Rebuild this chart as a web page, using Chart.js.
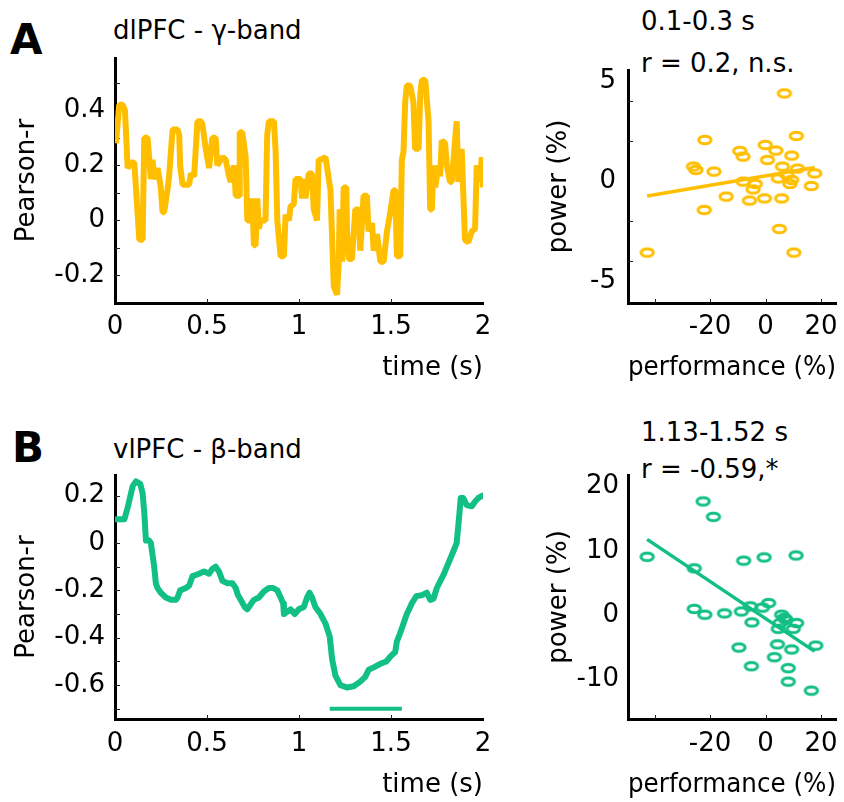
<!DOCTYPE html>
<html>
<head>
<meta charset="utf-8">
<script src="https://cdn.jsdelivr.net/npm/chart.js@4.4.1/dist/chart.umd.min.js"></script>
<style>
  html, body { margin: 0; padding: 0; background: #fff; overflow: hidden; }
  #fig { position: relative; width: 844px; height: 802px; font-family: 'DejaVu Sans', sans-serif; color: #000; }
  #fig canvas { position: absolute; }
  .txt { position: absolute; font-size: 26px; line-height: 1; white-space: nowrap; }
  .lbl { position: absolute; font-size: 42px; font-weight: bold; line-height: 1; }
</style>
</head>
<body>
<div id="fig">
  <div class="lbl" style="left:10px; top:19px;">A</div>
  <div class="lbl" style="left:12px; top:427px;">B</div>
  <div class="txt" style="left:113px; top:17px;">dlPFC - γ-band</div>
  <div class="txt" style="left:113px; top:436px;">vlPFC - β-band</div>
  <div class="txt" style="left:641px; top:8px;">0.1-0.3 s</div>
  <div class="txt" style="left:641px; top:50px;">r = 0.2, n.s.</div>
  <div class="txt" style="left:641px; top:419px;">1.13-1.52 s</div>
  <div class="txt" style="left:641px; top:456px;">r = -0.59,*</div>

  <canvas id="lineA" width="510" height="350" style="left:0; top:45px;"></canvas>
  <canvas id="scatA" width="324" height="350" style="left:520px; top:45px;"></canvas>
  <canvas id="lineB" width="510" height="340" style="left:0; top:462px;"></canvas>
  <canvas id="scatB" width="324" height="340" style="left:520px; top:462px;"></canvas>
</div>
<script>
// ---- data ----
const A_TIME = [0.005,0.023,0.042,0.054,0.069,0.087,0.105,0.132,0.150,0.159,
  0.177,0.195,0.204,0.213,0.231,0.249,0.258,0.267,0.285,0.294,
  0.313,0.340,0.349,0.354,0.367,0.403,0.412,0.430,0.448,0.466,
  0.475,0.493,0.511,0.529,0.547,0.556,0.584,0.602,0.620,0.629,
  0.647,0.656,0.674,0.678,0.692,0.710,0.719,0.737,0.746,0.755,
  0.764,0.773,0.782,0.791,0.818,0.827,0.836,0.864,0.873,0.882,
  0.900,0.918,0.927,0.945,0.954,0.972,0.981,1.008,1.017,1.026,
  1.035,1.053,1.071,1.080,1.098,1.107,1.117,1.144,1.171,1.189,
  1.207,1.216,1.221,1.234,1.243,1.257,1.261,1.270,1.288,1.306,
  1.324,1.333,1.351,1.369,1.378,1.397,1.406,1.424,1.442,1.460,
  1.478,1.496,1.514,1.523,1.532,1.550,1.559,1.568,1.577,1.586,
  1.604,1.622,1.631,1.650,1.659,1.668,1.686,1.704,1.713,1.722,
  1.731,1.740,1.758,1.767,1.776,1.794,1.803,1.821,1.830,1.848,
  1.857,1.866,1.884,1.902,1.920,1.939,1.957,1.966,1.984,1.993,2.0];
const A_R = [0.28,0.42,0.42,0.40,0.19,0.21,0.21,-0.07,-0.07,0.30,
  0.30,0.15,0.22,0.15,0.19,0.12,0.03,0.03,0.11,0.16,
  0.33,0.33,0.31,0.20,0.13,0.13,0.17,0.16,0.36,0.36,
  0.35,0.26,0.19,0.30,0.30,0.20,0.23,0.22,0.16,0.14,
  0.20,0.09,0.09,0.32,0.32,0.23,0.00,0.00,0.08,-0.09,
  -0.09,0.08,-0.03,0.00,0.00,0.31,0.36,0.36,0.25,0.00,
  -0.13,-0.13,0.02,0.00,0.05,0.06,0.15,0.15,0.08,0.15,
  0.08,0.17,0.17,0.04,0.00,0.22,0.22,0.23,0.11,-0.24,
  -0.27,-0.15,0.04,-0.15,0.12,0.12,-0.04,-0.14,-0.14,0.04,
  0.04,-0.11,0.09,0.09,-0.04,-0.01,-0.11,-0.05,-0.15,-0.15,
  -0.04,0.03,0.11,0.11,-0.13,-0.13,0.22,0.25,0.43,0.49,
  0.49,0.43,0.26,0.26,0.46,0.51,0.51,0.36,0.04,0.04,
  0.20,0.12,0.20,0.16,0.29,0.28,0.20,0.14,0.14,0.29,
  0.36,0.14,0.26,-0.07,-0.08,-0.04,-0.03,0.20,0.14,0.23,0.12];

const B_TIME = [0.005,0.051,0.069,0.096,0.114,0.137,0.150,0.159,0.168,0.186,
  0.195,0.213,0.222,0.231,0.249,0.276,0.304,0.331,0.340,0.354,
  0.385,0.403,0.421,0.439,0.457,0.484,0.511,0.529,0.547,0.565,
  0.584,0.611,0.638,0.656,0.668,0.683,0.705,0.719,0.737,0.755,
  0.782,0.809,0.836,0.860,0.882,0.900,0.914,0.918,0.936,0.954,
  0.977,0.999,1.026,1.044,1.057,1.071,1.089,1.117,1.144,1.167,
  1.180,1.198,1.225,1.261,1.297,1.333,1.360,1.379,1.406,1.442,
  1.474,1.496,1.523,1.532,1.550,1.568,1.586,1.613,1.637,1.668,
  1.695,1.713,1.731,1.749,1.785,1.812,1.839,1.857,1.872,1.879,
  1.893,1.911,1.939,1.957,1.975,1.998];
const B_R = [0.10,0.10,0.15,0.24,0.26,0.25,0.21,0.13,0.01,0.01,
  0.00,-0.10,-0.17,-0.19,-0.21,-0.23,-0.24,-0.24,-0.23,-0.20,
  -0.19,-0.18,-0.14,-0.135,-0.13,-0.12,-0.13,-0.11,-0.10,-0.12,
  -0.16,-0.17,-0.17,-0.19,-0.22,-0.24,-0.27,-0.28,-0.26,-0.24,
  -0.23,-0.205,-0.19,-0.19,-0.20,-0.23,-0.255,-0.30,-0.29,-0.28,
  -0.30,-0.28,-0.27,-0.23,-0.21,-0.23,-0.27,-0.30,-0.34,-0.395,
  -0.49,-0.56,-0.60,-0.61,-0.605,-0.585,-0.565,-0.535,-0.525,-0.51,
  -0.50,-0.48,-0.46,-0.415,-0.38,-0.34,-0.30,-0.255,-0.225,-0.22,
  -0.21,-0.24,-0.235,-0.19,-0.135,-0.085,-0.035,0.00,0.125,0.19,
  0.19,0.16,0.155,0.175,0.19,0.20];
const SIG_T = [1.167, 1.559];
const SIG_R = -0.70;

const TIME_TICKS = [0, 0.5, 1, 1.5, 2];
const A_R_TICKS = [-0.2, 0, 0.2, 0.4];
const B_R_TICKS = [-0.6, -0.4, -0.2, 0, 0.2];

const A_PERF = [6.8,-21.9,11.1,-0.1,-9.3,-8.1,3.7,9.4,0.7,-26.0,-25.1,-18.6,6.1,11.5,17.7,4.6,
  9.4,-8.1,-3.7,-4.5,8.8,16.5,-14.2,-5.8,-0.4,5.8,-22.1,5.0,-42.7,10.2,7.6];
const A_POW = [4.38,2.05,2.25,1.8,1.5,1.22,1.52,1.27,1.05,0.72,0.55,0.47,0.72,0.62,0.38,0.13,
  0.05,-0.03,-0.15,-0.42,-0.15,-0.25,-0.78,-0.98,-0.87,-0.87,-1.45,-2.4,-3.58,-3.58,0.3];
const A_FIT_X = [-42.7, 17.7];
const A_FIT_Y = [-0.75, 0.68];

const B_PERF = [-22.5,-18.8,-42.7,-7.9,-0.5,11.0,-25.7,-25.7,-21.9,-14.8,-8.7,-5.5,-1.1,1.1,-4.9,5.8,
  6.8,5.2,11.2,4.6,10.0,-9.6,4.3,9.4,18.1,3.2,-5.1,8.2,8.2,16.5,7.4];
const B_POW = [17.7,15.3,9.1,8.5,9.0,9.3,7.3,1.0,0.1,0.3,0.6,1.4,1.2,1.9,-1.1,0.1,
  -0.4,-1.2,-1.2,-2.1,-2.1,-5.0,-4.5,-5.3,-4.7,-6.5,-7.9,-8.2,-10.3,-11.7,-0.7];
const B_FIT_X = [-42.7, 17.7];
const B_FIT_Y = [11.8, -5.6];

const PERF_TICKS = [-20, 0, 20];
const A_POW_TICKS = [-5, 0, 5];
const B_POW_TICKS = [-10, 0, 10, 20];

// small inward tick marks
const TIME_MINOR = [0.5, 1, 1.5];
const A_R_MINOR = [-0.2, -0.1, 0, 0.1, 0.2, 0.3, 0.4, 0.5];
const B_R_MINOR = [-0.7, -0.6, -0.5, -0.4, -0.3, -0.2, -0.1, 0, 0.1, 0.2];
const PERF_MINOR = [-40, -20, 0, 20];
const A_POW_MINOR = [-4, -2, 2, 4];

const YELLOW = '#FFBF00';
const GREEN = '#12BF84';

Chart.defaults.font.family = "'DejaVu Sans', sans-serif";
Chart.defaults.font.size = 26;
Chart.defaults.color = '#000';
Chart.defaults.animation = false;

const innerTicks = {
    id: 'innerTicks',
    beforeDatasetsDraw(chart, args, opts) {
        const { ctx, chartArea: a, scales: { x, y } } = chart;
        ctx.save();
        ctx.strokeStyle = '#222';
        ctx.lineWidth = 1;
        ctx.beginPath();
        (opts.x || []).forEach(v => {
            const px = Math.round(x.getPixelForValue(v)) + 0.5;
            ctx.moveTo(px, a.bottom); ctx.lineTo(px, a.bottom - 4);
        });
        (opts.y || []).forEach(v => {
            const py = Math.round(y.getPixelForValue(v)) + 0.5;
            ctx.moveTo(a.left, py); ctx.lineTo(a.left + 5, py);
        });
        ctx.stroke();
        ctx.restore();
    }
};

// open ellipse marker, as in the original figure
function ellipse(color) {
    const c = document.createElement('canvas');
    c.width = 20; c.height = 14;
    const g = c.getContext('2d');
    g.strokeStyle = color;
    g.lineWidth = 3;
    g.beginPath();
    g.ellipse(10, 7, 6.2, 3.8, 0, 0, Math.PI * 2);
    g.stroke();
    return c;
}

const fmt = v => (v === 0 ? '0' : (Number.isInteger(v) ? String(v) : v.toFixed(1)));

function xScale(min, max, ticks, height, title, tickPad, titlePad) {
    return {
        type: 'linear', min, max,
        afterBuildTicks: s => { s.ticks = ticks.map(v => ({ value: v })); },
        afterFit: s => { s.height = height; s.paddingLeft = 0; s.paddingRight = 0; },
        grid: { display: false, drawTicks: false },
        border: { display: true, color: '#000', width: 3 },
        ticks: { padding: tickPad, autoSkip: false, maxRotation: 0, callback: fmt },
        title: { display: true, text: title, align: 'end', padding: { top: 0, bottom: titlePad } }
    };
}

function yScale(min, max, ticks, width, title, tickPad, titlePad) {
    return {
        type: 'linear', min, max,
        afterBuildTicks: s => { s.ticks = ticks.map(v => ({ value: v })); },
        afterFit: s => { s.width = width; s.paddingTop = 0; s.paddingBottom = 0; },
        grid: { display: false, drawTicks: false },
        border: { display: true, color: '#000', width: 3 },
        ticks: { padding: tickPad, autoSkip: false, callback: fmt },
        title: { display: true, text: title, padding: { top: titlePad, bottom: 0 } }
    };
}

const basePlugins = { legend: { display: false }, tooltip: { enabled: false } };

// A: time course, dlPFC gamma
new Chart(document.getElementById('lineA'), {
    type: 'line',
    data: {
        datasets: [{
            data: A_TIME.map((t, i) => ({ x: t, y: A_R[i] })),
            borderColor: YELLOW, borderWidth: 6, pointRadius: 0,
            borderJoinStyle: 'bevel', tension: 0
        }]
    },
    options: {
        responsive: false, devicePixelRatio: 1,
        layout: { padding: { left: 0, top: 13, right: 27, bottom: 0 } },
        scales: {
            x: xScale(0, 2, TIME_TICKS, 92, 'time (s)', 9, 11),
            y: yScale(-0.3, 0.59, A_R_TICKS, 115, 'Pearson-r', 10, 12)
        },
        plugins: { ...basePlugins, innerTicks: { x: TIME_MINOR, y: A_R_MINOR } }
    },
    plugins: [innerTicks]
});

// B: time course, vlPFC beta
new Chart(document.getElementById('lineB'), {
    type: 'line',
    data: {
        datasets: [{
            data: B_TIME.map((t, i) => ({ x: t, y: B_R[i] })),
            borderColor: GREEN, borderWidth: 6, pointRadius: 0,
            borderJoinStyle: 'round', borderCapStyle: 'round', tension: 0
        }, {
            data: SIG_T.map(t => ({ x: t, y: SIG_R })),
            borderColor: GREEN, borderWidth: 4, pointRadius: 0
        }]
    },
    options: {
        responsive: false, devicePixelRatio: 1,
        layout: { padding: { left: 0, top: 13, right: 27, bottom: 0 } },
        scales: {
            x: xScale(0, 2, TIME_TICKS, 83, 'time (s)', 10, 1),
            y: yScale(-0.743, 0.287, B_R_TICKS, 115, 'Pearson-r', 10, 12)
        },
        plugins: { ...basePlugins, innerTicks: { x: TIME_MINOR, y: B_R_MINOR } }
    },
    plugins: [innerTicks]
});

function scatterChart(id, perf, pow, fitX, fitY, color, yMin, yMax, yTicks, yMinor, padTop, xHeight, tickPadX, titlePad, tickPadY) {
    const marker = ellipse(color);
    return new Chart(document.getElementById(id), {
        type: 'scatter',
        data: {
            datasets: [{
                data: perf.map((p, i) => ({ x: p, y: pow[i] })),
                pointStyle: marker, pointRadius: 7
            }, {
                data: fitX.map((p, i) => ({ x: p, y: fitY[i] })),
                showLine: true, borderColor: color, borderWidth: 3.5, pointRadius: 0
            }]
        },
        options: {
            responsive: false, devicePixelRatio: 1,
            layout: { padding: { left: 0, top: padTop, right: 6, bottom: 0 } },
            scales: {
                x: xScale(-49.6, 25.4, PERF_TICKS, xHeight, 'performance (%)', tickPadX, titlePad),
                y: yScale(yMin, yMax, yTicks, 108, 'power (%)', tickPadY, 24)
            },
            plugins: { ...basePlugins, innerTicks: { x: PERF_MINOR, y: yMinor } }
        },
        plugins: [innerTicks]
    });
}

scatterChart('scatA', A_PERF, A_POW, A_FIT_X, A_FIT_Y, YELLOW, -6.1, 5.55, A_POW_TICKS, A_POW_MINOR, 25, 92, 9, 11, 12);
scatterChart('scatB', B_PERF, B_POW, B_FIT_X, B_FIT_Y, GREEN, -16.1, 21.8, B_POW_TICKS, [], 13, 83, 10, 1, 9);
</script>
</body>
</html>
